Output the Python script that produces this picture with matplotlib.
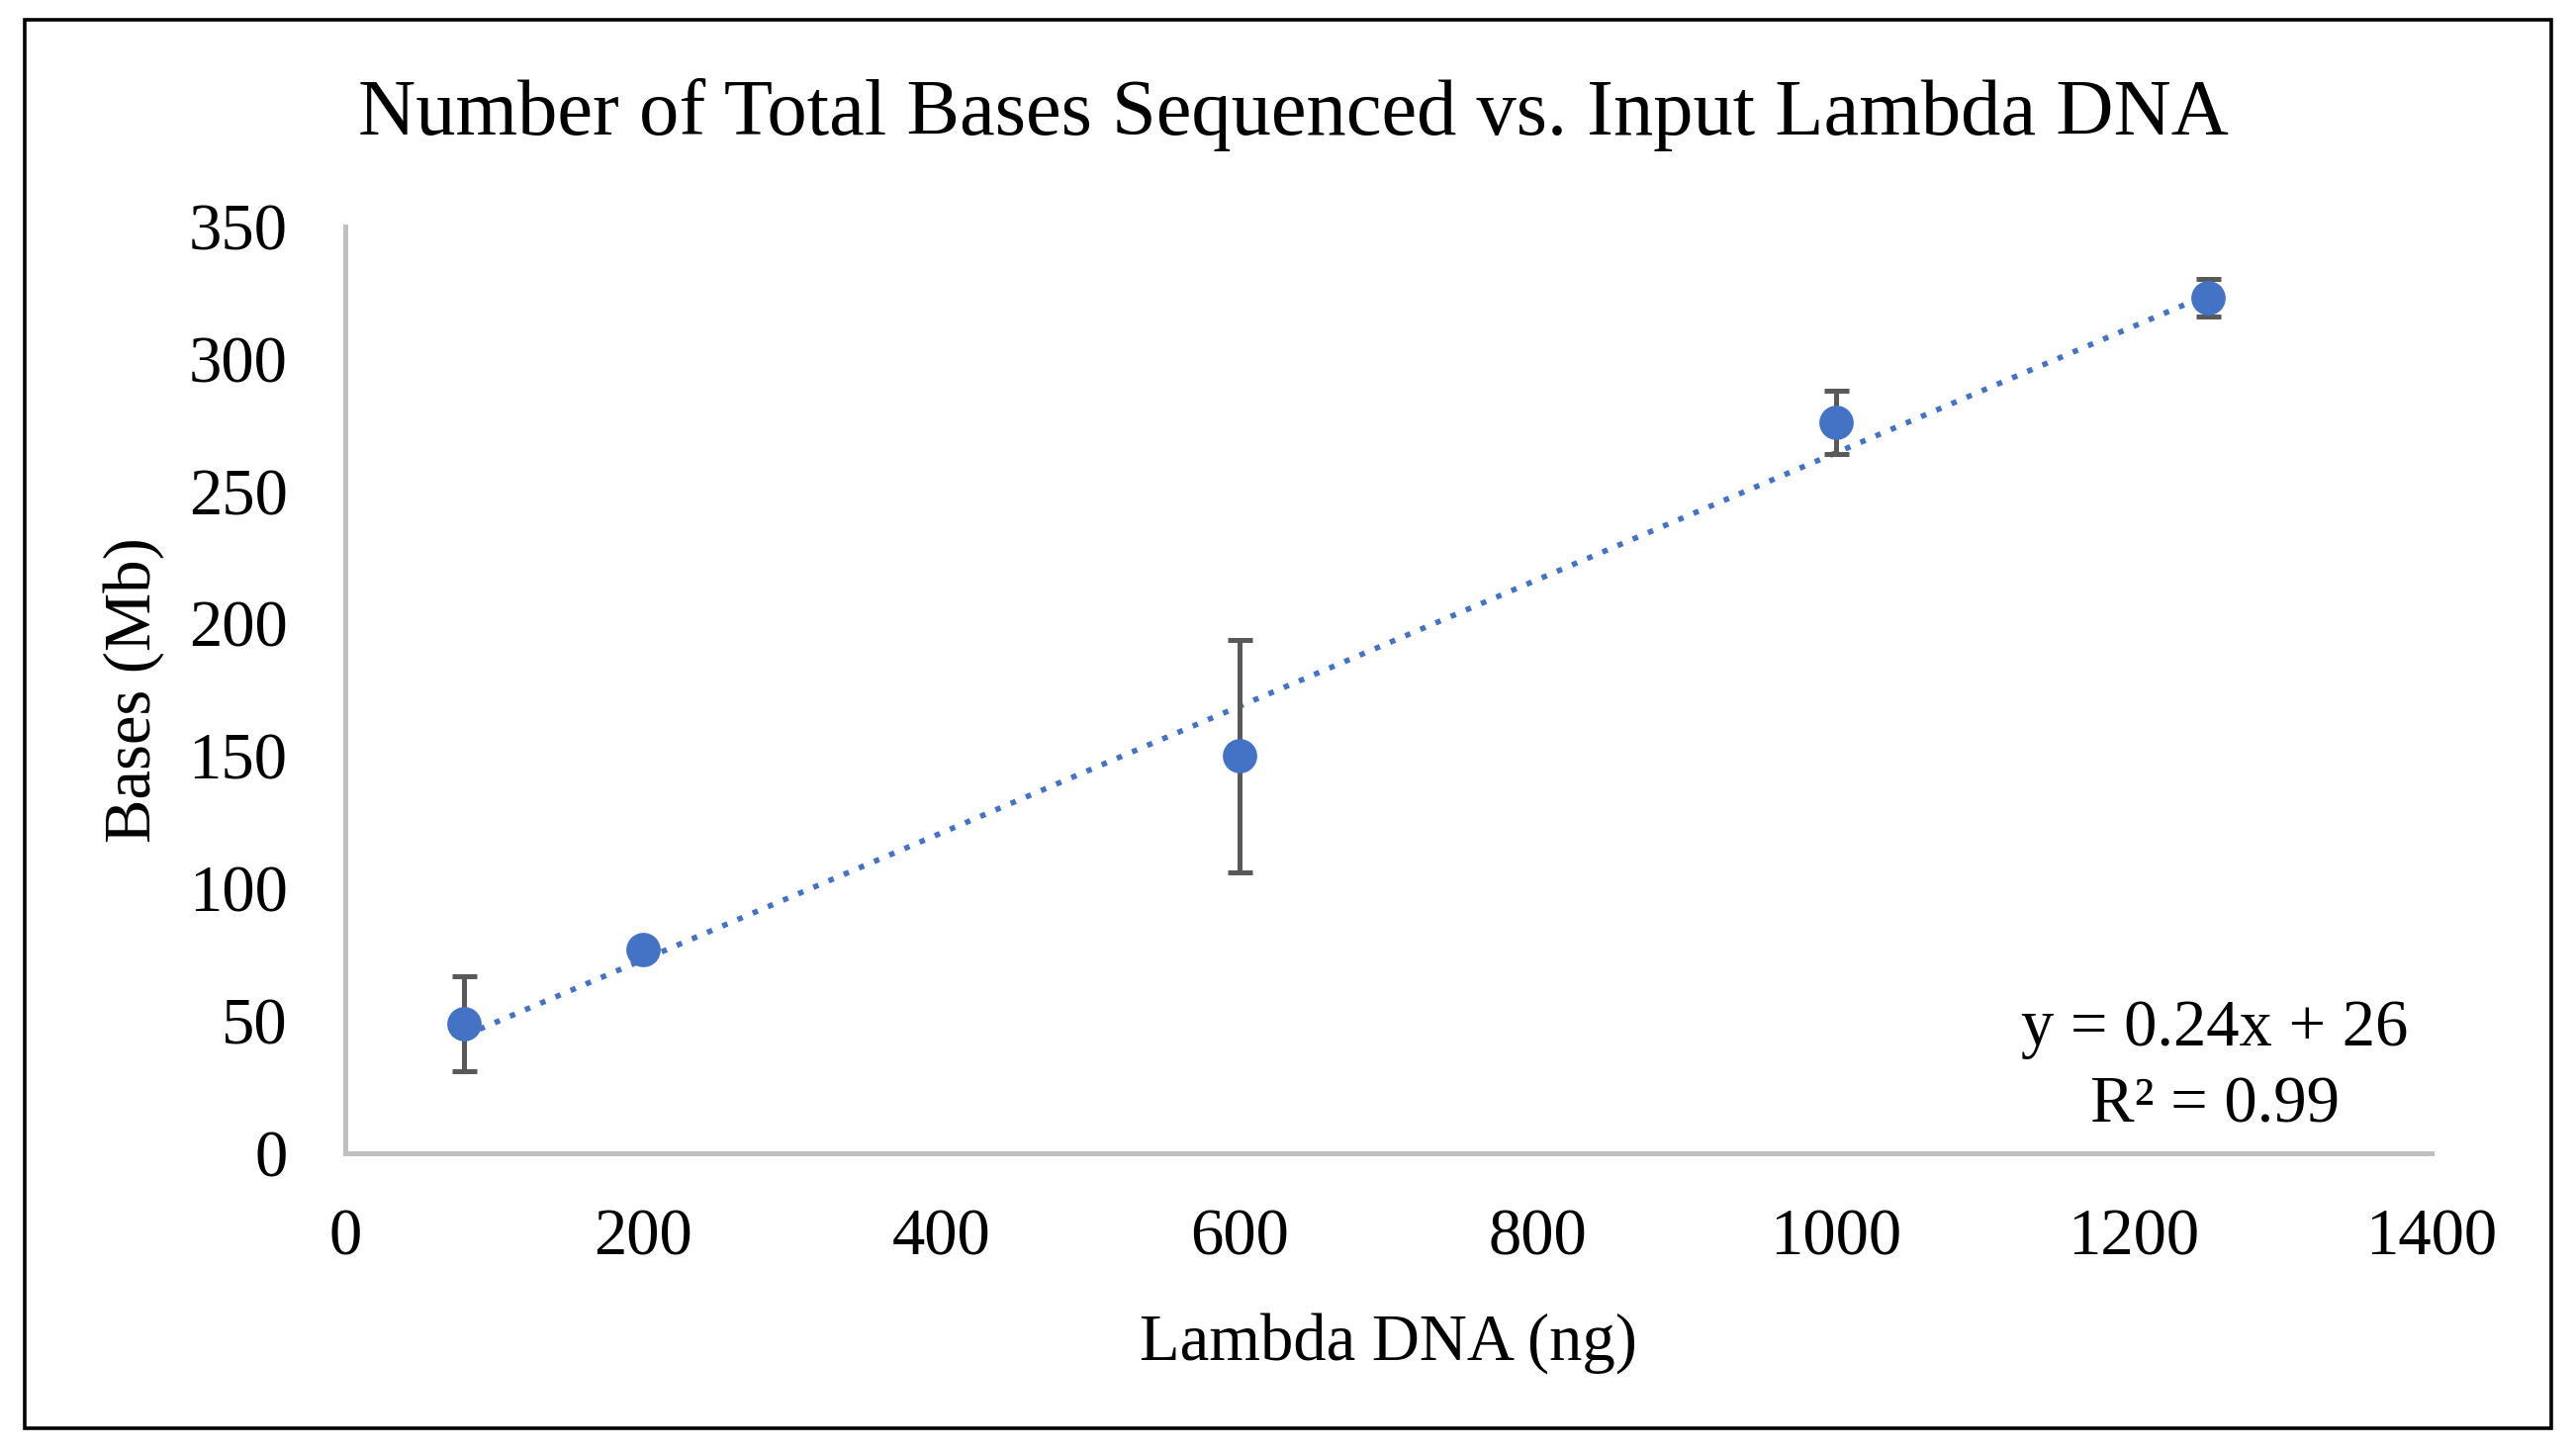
import numpy as np
import matplotlib
matplotlib.use("Agg")
import matplotlib.pyplot as plt
from matplotlib.patches import Rectangle

# Data
lambda_ng = [80, 200, 600, 1000, 1250]
bases_mb = [49, 77, 150, 276, 323]
bases_err = [18, 0, 44, 12, 7]

x_ticks = [0, 200, 400, 600, 800, 1000, 1200, 1400]
y_ticks = [0, 50, 100, 150, 200, 250, 300, 350]

title = "Number of Total Bases Sequenced vs. Input Lambda DNA"
x_label = "Lambda DNA (ng)"
y_label = "Bases (Mb)"

plt.rcParams["font.family"] = ["Liberation Serif", "DejaVu Serif"]

fig = plt.figure(figsize=(13.02, 7.33), dpi=200)
ax = fig.add_axes([0.134, 0.2045, 0.810, 0.6395])

# outer frame around the whole chart
fig.patches.append(Rectangle((0.0096, 0.0147), 0.9808, 0.9717, transform=fig.transFigure,
                             fill=False, edgecolor="black", linewidth=1.3))

# linear trendline (dotted)
slope, intercept = np.polyfit(lambda_ng, bases_mb, 1)
tx = np.array([min(lambda_ng), max(lambda_ng)])
ax.plot(tx, slope * tx + intercept, color="#4472C4", linewidth=2.0,
        linestyle=(0, (1, 2)), zorder=2)

# points with error bars
ax.errorbar(lambda_ng, bases_mb, yerr=bases_err, fmt="o", color="#4472C4",
            markersize=11.5, ecolor="#595959", elinewidth=1.8, capsize=4.5,
            capthick=1.8, zorder=3)

ax.set_xlim(0, 1400)
ax.set_ylim(0, 350)
ax.set_xticks(x_ticks)
ax.set_yticks(y_ticks)
ax.tick_params(length=0, labelsize=24)
ax.tick_params(axis="x", pad=20)
ax.tick_params(axis="y", pad=21)

for side in ["top", "right"]:
    ax.spines[side].set_visible(False)
for side in ["left", "bottom"]:
    ax.spines[side].set_color("#BFBFBF")
    ax.spines[side].set_linewidth(1.8)

ax.set_xlabel(x_label, fontsize=24, labelpad=16)
ax.set_ylabel(y_label, fontsize=24, labelpad=9)

fig.text(0.502, 0.921, title, fontsize=29, ha="center", va="center")

ax.text(0.896, 0.134, "y = 0.24x + 26", transform=ax.transAxes, fontsize=24,
        ha="center", va="center")
ax.text(0.896, 0.051, "R\u00b2 = 0.99", transform=ax.transAxes, fontsize=24,
        ha="center", va="center")

fig.savefig("out.png", dpi=200)
